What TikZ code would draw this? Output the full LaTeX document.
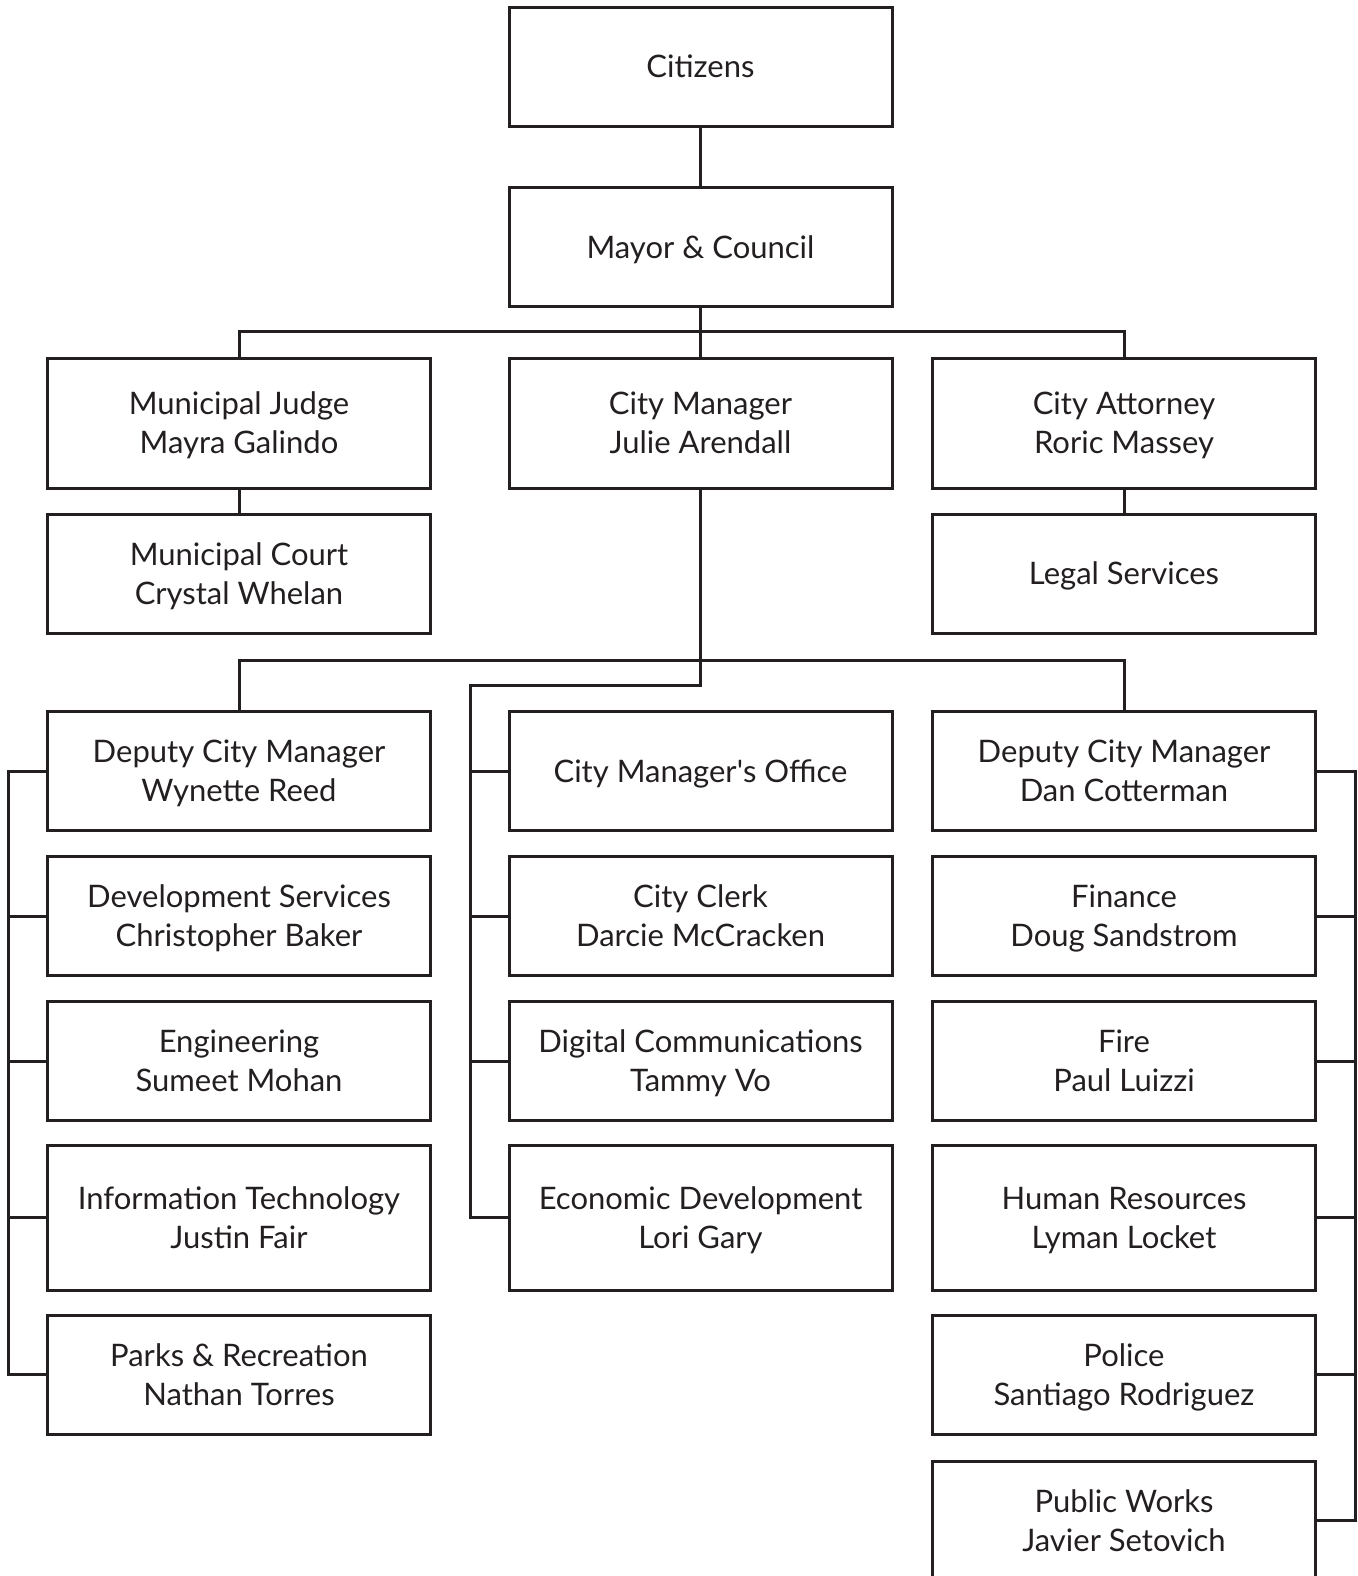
\documentclass[tikz,border=0pt]{standalone}
\usepackage{fontspec}
\setmainfont{Lato}
\definecolor{ln}{HTML}{231F20}
\begin{document}
\begin{tikzpicture}[x=0.5pt,y=-0.5pt,
  bx/.style={draw=ln, line width=1.5pt, minimum width=191.5pt, minimum height=59.5pt,
    inner sep=0pt, outer sep=0pt, align=center, text=ln,
    font=\fontsize{15.5}{19.5}\selectfont,
    execute at begin node={\rule{0pt}{11.2pt}}, text depth=0pt},
  tall/.style={minimum height=65pt},
  taller/.style={minimum height=72.5pt},
  con/.style={draw=ln, line width=1.5pt, line join=miter}]
\clip (0,0) rectangle (1357,1576);
% top
\node[bx] (cit) at (700.5,66.5) {Citizens};
\node[bx] (mayor) at (700.5,247) {Mayor \& Council};
\node[bx,tall] (judge) at (239,423) {Municipal Judge\\Mayra Galindo};
\node[bx,tall] (cm) at (700.5,423) {City Manager\\Julie Arendall};
\node[bx,tall] (atty) at (1124,423) {City Attorney\\Roric Massey};
\node[bx] (court) at (239,573.5) {Municipal Court\\Crystal Whelan};
\node[bx] (legal) at (1124,573.5) {Legal Services};
% left column
\node[bx] (l1) at (239,771) {Deputy City Manager\\Wynette Reed};
\node[bx] (l2) at (239,916) {Development Services\\Christopher Baker};
\node[bx] (l3) at (239,1061) {Engineering\\Sumeet Mohan};
\node[bx,taller] (l4) at (239,1217.5) {Information Technology\\Justin Fair};
\node[bx] (l5) at (239,1374.5) {Parks \& Recreation\\Nathan Torres};
% middle column
\node[bx] (m1) at (700.5,771) {City Manager\textquotesingle s Office};
\node[bx] (m2) at (700.5,916) {City Clerk\\Darcie McCracken};
\node[bx] (m3) at (700.5,1061) {Digital Communications\\Tammy Vo};
\node[bx,taller] (m4) at (700.5,1217.5) {Economic Development\\Lori Gary};
% right column
\node[bx] (r1) at (1124,771) {Deputy City Manager\\Dan Cotterman};
\node[bx] (r2) at (1124,916) {Finance\\Doug Sandstrom};
\node[bx] (r3) at (1124,1061) {Fire\\Paul Luizzi};
\node[bx,taller] (r4) at (1124,1217.5) {Human Resources\\Lyman Locket};
\node[bx] (r5) at (1124,1374.5) {Police\\Santiago Rodriguez};
\node[bx] (r6) at (1124,1520.5) {Public Works\\Javier Setovich};
% bus coordinates
\coordinate (B1) at (0,331);
\coordinate (B2) at (0,660);
\coordinate (B3) at (0,685);
\coordinate (L) at (8,0);
\coordinate (M) at (470,0);
\coordinate (R) at (1355,0);
% connectors
\draw[con] (cit) -- (mayor);
\draw[con] (mayor.south) -- (cm.north);
\draw[con] (judge.north) -- (judge.north |- B1) -- (atty.north |- B1) -- (atty.north);
\draw[con] (judge) -- (court);
\draw[con] (atty) -- (legal);
\draw[con] (l1.north) -- (l1.north |- B2) -- (r1.north |- B2) -- (r1.north);
\draw[con] (cm.south) -- (cm.south |- B3) -- (M |- B3) -- (M |- m4.west) -- (m4.west);
\foreach \i in {1,2,3} {\draw[con] (m\i.west) -- (m\i.west -| M);}
\draw[con] (l1.west) -- (l1.west -| L) -- (l5.west -| L) -- (l5.west);
\foreach \i in {2,3,4} {\draw[con] (l\i.west) -- (l\i.west -| L);}
\draw[con] (r1.east) -- (r1.east -| R) -- (r6.east -| R) -- (r6.east);
\foreach \i in {2,3,4,5} {\draw[con] (r\i.east) -- (r\i.east -| R);}
\end{tikzpicture}
\end{document}
